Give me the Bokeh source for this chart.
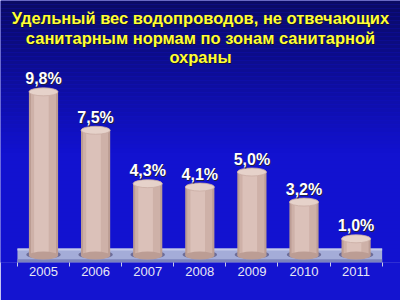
from bokeh.plotting import figure
from bokeh.models import FixedTicker, Range1d
from bokeh.core.properties import value
from bokeh.embed import file_html
from bokeh.resources import INLINE

years = ["2005", "2006", "2007", "2008", "2009", "2010", "2011"]
shares = [9.8, 7.5, 4.3, 4.1, 5.0, 3.2, 1.0]
share_labels = ["9,8%", "7,5%", "4,3%", "4,1%", "5,0%", "3,2%", "1,0%"]
title_lines = ["Удельный вес водопроводов, не отвечающих",
               "санитарным нормам по зонам санитарной",
               "охраны"]

PX = 16.7          # pixels per percent
BASE = 255         # pixel row of zero
FH = 262           # frame height
x0 = -43 / 52.1
x1 = (400 - 43) / 52.1
y1 = BASE / PX
y0 = (BASE - FH) / PX

p = figure(width=400, height=300, output_backend="svg", toolbar_location=None,
           x_range=Range1d(x0, x1), y_range=Range1d(y0, y1),
           min_border_left=0, min_border_right=0, min_border_top=0,
           min_border_bottom=300 - FH)
p.outline_line_color = None
p.grid.visible = False
p.yaxis.visible = False
p.background_fill_color = "#1212cc"
p.border_fill_color = "#1414d0"

# background gradient (top dark navy -> bright blue)
step = 4
for py in range(0, FH, step):
    t = min(py / 150.0, 1.0)
    r = int(10 + (18 - 10) * t)
    g = int(10 + (18 - 10) * t)
    b = int(100 + (208 - 100) * t)
    p.quad(left=x0, right=x1, top=(BASE - py) / PX, bottom=(BASE - py - step) / PX,
           fill_color=(r, g, b), line_color=None)

xs = list(range(len(years)))

# floor slab
p.quad(left=-0.5, right=6.5, top=0.42, bottom=y0, fill_color="#a4acd8", line_color=None)
p.quad(left=-0.5, right=6.5, top=0.42, bottom=0.30, fill_color="#c4c9ea", line_color=None)
p.quad(left=-0.5, right=6.5, top=-0.22, bottom=y0, fill_color="#7c84bc", line_color=None)

# base shadows
p.ellipse(x=xs, y=[0.05] * 7, width=0.66, height=8, height_units="screen",
          fill_color="#6c6c98", line_color=None)

# cylinders
p.vbar(x=xs, top=shares, bottom=0, width=0.56, fill_color="#bc9d94", line_color=None)
p.vbar(x=xs, top=shares, bottom=0, width=0.48, fill_color="#ceb1a8", line_color=None)
p.vbar(x=[x - 0.04 for x in xs], top=shares, bottom=0, width=0.28,
       fill_color="#dbc1b9", line_color=None)
p.ellipse(x=xs, y=[0] * 7, width=0.56, height=8, height_units="screen",
          fill_color="#bc9d94", line_color=None)
p.ellipse(x=xs, y=shares, width=0.56, height=8, height_units="screen",
          fill_color="#e6d2ca", line_color="#c9aca3", line_width=0.8)

# value labels
p.text(x=[x + 0.02 for x in xs], y=shares, text=share_labels, y_offset=-12,
       text_align="center", text_baseline="middle", text_color="#202040",
       text_font=value("Liberation Sans"), text_font_style="bold", text_font_size="16px")
p.text(x=xs, y=shares, text=share_labels, y_offset=-13,
       text_align="center", text_baseline="middle", text_color="#ffffff",
       text_font=value("Liberation Sans"), text_font_style="bold", text_font_size="16px")

# title
ty = [(BASE - 17) / PX, (BASE - 37) / PX, (BASE - 56) / PX]
tx = [(200 - 43) / 52.1] * 3
p.text(x=[v + 0.02 for v in tx], y=ty, text=title_lines, y_offset=1,
       text_align="center", text_baseline="middle", text_color="#101030",
       text_font=value("Liberation Sans"), text_font_style="bold", text_font_size="16.5px")
p.text(x=tx, y=ty, text=title_lines,
       text_align="center", text_baseline="middle", text_color="#ffff33",
       text_font=value("Liberation Sans"), text_font_style="bold", text_font_size="16.5px")

# x axis
ax = p.xaxis[0]
ax.ticker = FixedTicker(ticks=xs, minor_ticks=[x - 0.5 for x in xs] + [6.5])
ax.major_label_overrides = {i: y for i, y in enumerate(years)}
ax.axis_line_color = None
ax.major_tick_line_color = None
ax.major_tick_out = 0
ax.major_tick_in = 0
ax.minor_tick_line_color = "#c8cce8"
ax.minor_tick_out = 4
ax.minor_tick_in = 0
ax.major_label_standoff = 0
ax.major_label_text_color = "#e8e8f4"
ax.major_label_text_font = "Liberation Sans"
ax.major_label_text_font_size = "13px"

open("out.html", "w").write(file_html(p, INLINE))
